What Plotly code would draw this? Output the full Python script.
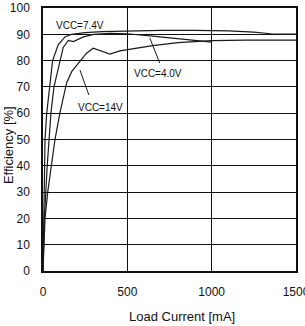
import plotly.graph_objects as go

# Data
x_74 = [0, 4, 7, 12, 22, 38, 57, 90, 130, 170, 250, 350, 500, 700, 900, 1100, 1250, 1350, 1500]
y_74 = [0, 20, 40, 50, 60, 70, 80, 86, 89, 90, 90.6, 91, 91.3, 91.5, 91.5, 91.3, 90.8, 90.2, 90.1]

x_40 = [0, 8, 25, 37, 47, 65, 100, 120, 150, 180, 240, 300, 400, 500, 650, 800, 1000]
y_40 = [0, 20, 40, 50, 60, 70, 80, 85, 87.7, 87.2, 89, 90, 90.4, 90.2, 89.3, 88.2, 87]

x_14 = [0, 12, 28, 51, 71, 100, 140, 170, 219, 258, 298, 396, 456, 550, 650, 800, 1000, 1200, 1500]
y_14 = [0, 20, 30, 40, 50, 60, 71.5, 75.8, 79.6, 82.8, 84.7, 82.5, 83.7, 84.8, 85.7, 86.8, 87.6, 87.8, 87.8]

x_ticks = [0, 500, 1000, 1500]
y_ticks = [0, 10, 20, 30, 40, 50, 60, 70, 80, 90, 100]

labels = ["VCC=7.4V", "VCC=4.0V", "VCC=14V"]

FONT = "Liberation Sans, Arial, sans-serif"
INK = "#111111"

fig = go.Figure()
for xs, ys in [(x_74, y_74), (x_40, y_40), (x_14, y_14)]:
    fig.add_trace(go.Scatter(x=xs, y=ys, mode="lines",
                             line=dict(color="#1a1a1a", width=1.2),
                             showlegend=False, hoverinfo="skip"))

# label annotations
fig.add_annotation(x=219, y=93.5, text=labels[0], showarrow=False,
                   font=dict(size=10, color=INK, family=FONT))
fig.add_annotation(x=683, y=75.1, text=labels[1], showarrow=False,
                   font=dict(size=10, color=INK, family=FONT))
fig.add_annotation(x=341, y=62.2, text=labels[2], showarrow=False,
                   font=dict(size=10, color=INK, family=FONT))
# leader lines
fig.add_shape(type="line", x0=633, y0=88.6, x1=692, y1=79.1,
              line=dict(color="#1a1a1a", width=1))
fig.add_shape(type="line", x0=219, y0=76.4, x1=272, y1=66.9,
              line=dict(color="#1a1a1a", width=1))

# axis titles
fig.add_annotation(xref="paper", yref="paper", x=0.551, y=-0.172,
                   text="Load Current [mA]", showarrow=False,
                   xanchor="center", yanchor="middle",
                   font=dict(size=13, color=INK, family=FONT))
fig.add_annotation(xref="paper", yref="paper", x=-0.138, y=0.479,
                   text="Efficiency [%]", showarrow=False, textangle=-90,
                   xanchor="center", yanchor="middle",
                   font=dict(size=13, color=INK, family=FONT))

fig.update_layout(
    width=305, height=326,
    margin=dict(l=43, r=9, t=8, b=55, autoexpand=False),
    paper_bgcolor="white", plot_bgcolor="white",
    font=dict(family=FONT, size=12, color=INK),
    template="none",
)
fig.update_xaxes(range=[0, 1500], tickvals=x_ticks, ticktext=[str(v) for v in x_ticks],
                 showgrid=True, gridcolor="#111111", gridwidth=1.3,
                 showline=True, linecolor="#111111", linewidth=1.5, mirror=True,
                 zeroline=False, ticks="", ticklabelstandoff=9, automargin=False,
                 ticklabeloverflow="allow",
                 tickfont=dict(size=12, color=INK, family=FONT))
fig.update_yaxes(range=[0, 100], tickvals=y_ticks, ticktext=[str(v) for v in y_ticks],
                 showgrid=True, gridcolor="#111111", gridwidth=1.3,
                 showline=True, linecolor="#111111", linewidth=1.5, mirror=True,
                 zeroline=False, ticks="", ticklabelstandoff=9, automargin=False,
                 ticklabeloverflow="allow",
                 tickfont=dict(size=12, color=INK, family=FONT))

fig.write_html("out.html")
